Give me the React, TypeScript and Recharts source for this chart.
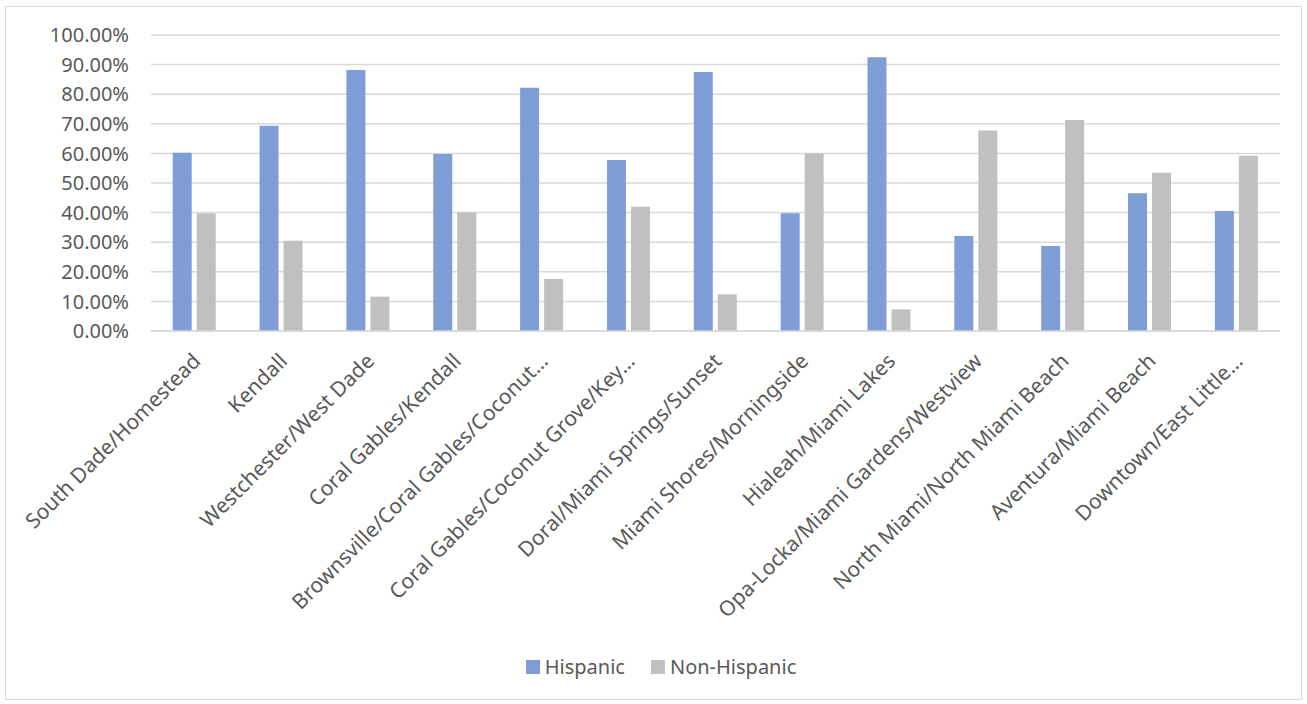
import React from 'react'
import { BarChart, Bar, XAxis, YAxis, CartesianGrid, Legend } from 'recharts'

const areas = [
  'South Dade/Homestead',
  'Kendall',
  'Westchester/West Dade',
  'Coral Gables/Kendall',
  'Brownsville/Coral Gables/Coconut…',
  'Coral Gables/Coconut Grove/Key…',
  'Doral/Miami Springs/Sunset',
  'Miami Shores/Morningside',
  'Hialeah/Miami Lakes',
  'Opa-Locka/Miami Gardens/Westview',
  'North Miami/North Miami Beach',
  'Aventura/Miami Beach',
  'Downtown/East Little…',
]

const hispanic = [0.602, 0.693, 0.882, 0.598, 0.822, 0.578, 0.875, 0.398, 0.925, 0.321, 0.287, 0.465, 0.405]
const nonHispanic = [0.398, 0.305, 0.116, 0.401, 0.176, 0.42, 0.124, 0.6, 0.073, 0.677, 0.713, 0.535, 0.592]

const yTicks = [0, 0.1, 0.2, 0.3, 0.4, 0.5, 0.6, 0.7, 0.8, 0.9, 1]

const data = areas.map((name, i) => ({
  name,
  Hispanic: hispanic[i],
  'Non-Hispanic': nonHispanic[i],
}))

const FONT = '"Noto Sans", sans-serif'
const TEXT = '#595959'

function AreaTick(props: any) {
  const { x, y, payload } = props
  return (
    <g transform={`translate(${x - 3},${y + 13}) rotate(-45)`}>
      <text textAnchor="end" dy="0.7em" fill={TEXT} fontSize={21} fontFamily={FONT}>
        {payload.value}
      </text>
    </g>
  )
}

function LegendBox() {
  const items = [
    { label: 'Hispanic', color: '#7f9dd6' },
    { label: 'Non-Hispanic', color: '#c0c0c0' },
  ]
  return (
    <div
      style={{
        display: 'flex',
        justifyContent: 'center',
        gap: 26,
        paddingLeft: 36,
        fontFamily: FONT,
        fontSize: 20,
        color: TEXT,
      }}
    >
      {items.map((it) => (
        <div key={it.label} style={{ display: 'flex', alignItems: 'center' }}>
          <span style={{ width: 14, height: 14, background: it.color, marginRight: 5, display: 'inline-block' }} />
          {it.label}
        </div>
      ))}
    </div>
  )
}

export default function App() {
  return (
    <div
      style={{
        position: 'fixed',
        left: 5,
        top: 6,
        width: 1297,
        height: 694,
        border: '1px solid #d9d9d9',
        background: '#fff',
        boxSizing: 'border-box',
      }}
    >
      <BarChart
        width={1295}
        height={692}
        data={data}
        margin={{ top: 28, right: 21, left: 0, bottom: 6 }}
        barCategoryGap="25%"
        barGap={5}
      >
        <CartesianGrid vertical={false} stroke="#d9d9d9" strokeWidth={1.5} />
        <XAxis
          dataKey="name"
          interval={0}
          height={322}
          tick={<AreaTick />}
          tickLine={false}
          axisLine={{ stroke: '#d9d9d9', strokeWidth: 1.5 }}
        />
        <YAxis
          width={145}
          domain={[0, 1]}
          ticks={yTicks}
          tickFormatter={(v: number) => (v * 100).toFixed(2) + '%'}
          axisLine={false}
          tickLine={false}
          tickMargin={16}
          tick={{ fill: TEXT, fontSize: 20, fontFamily: FONT }}
        />
        <Legend verticalAlign="bottom" height={40} content={<LegendBox />} />
        <Bar dataKey="Hispanic" fill="#7f9dd6" isAnimationActive={false} />
        <Bar dataKey="Non-Hispanic" fill="#c0c0c0" isAnimationActive={false} />
      </BarChart>
    </div>
  )
}
